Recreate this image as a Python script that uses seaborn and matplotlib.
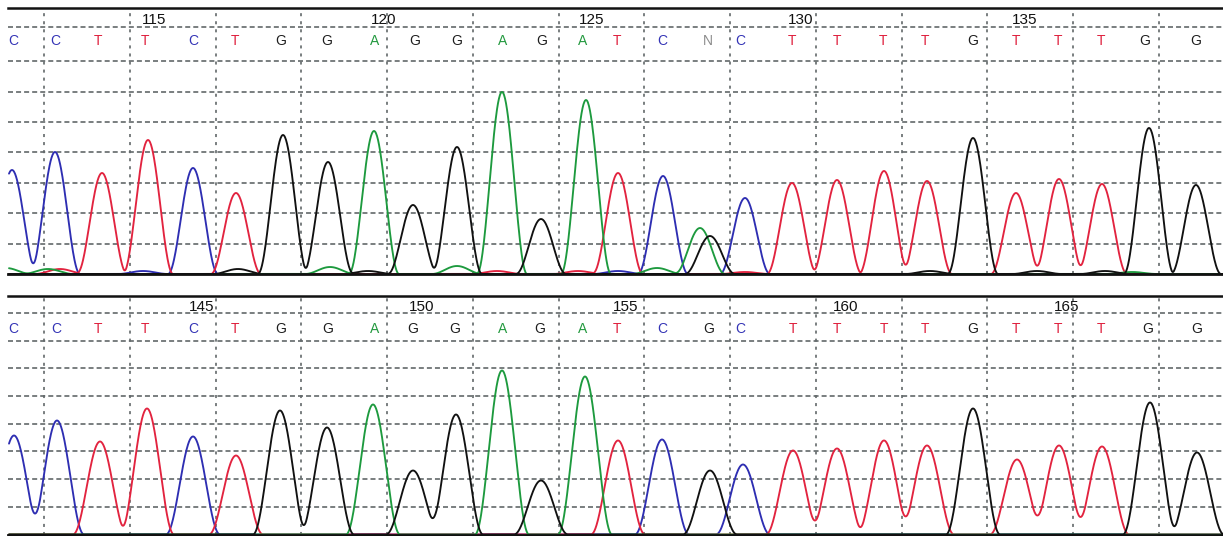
import numpy as np
import pandas as pd
import matplotlib
matplotlib.use("Agg")
import matplotlib.pyplot as plt
import seaborn as sns

# base calls and numbering
top_calls = list("CCTTCTGGAGGAGATCNCTTTTGTTTGG")
top_call_x = [13, 55, 98, 145, 193, 235, 281, 327, 375, 415, 457, 503, 542, 583,
              617, 662, 708, 740, 792, 837, 883, 925, 973, 1016, 1058, 1101, 1145, 1196]
top_first_pos = 112

bot_calls = list("CCTTCTGGAGGAGATCGCTTTTGTTTGG")
bot_call_x = [13, 56, 98, 145, 193, 235, 281, 328, 375, 413, 455, 503, 540, 583,
              617, 662, 709, 740, 793, 837, 884, 925, 973, 1016, 1058, 1101, 1148, 1197]
bot_first_pos = 141

# peaks of the top trace: scan position, height, dye
top_peak_x = [12, 55, 102, 148, 193, 236, 283, 328, 374, 413, 457, 502, 541, 586,
              618, 663, 700, 710, 745, 792, 837, 884, 927, 973, 1016, 1059, 1102, 1149, 1196]
top_peak_h = [104, 122, 101, 134, 106, 81, 139, 112, 143, 69, 127, 182, 55, 174,
              101, 98, 46, 38, 76, 91, 94, 103, 93, 136, 81, 95, 90, 146, 89]
top_peak_dye = list("CCTTCTGGAGGAGATCAGCTTTTGTTTGG")

# small background bumps on the top trace
top_noise_x = [6, 48, 330, 457, 657, 1132, 60, 497, 578, 745, 238, 368, 930, 1037, 1105, 143, 618]
top_noise_h = [6, 5, 7, 8, 6, 2, 5, 3, 3, 2, 5, 3, 3, 3, 3, 3, 3]
top_noise_dye = list("AAAAAATTTTGGGGGCC")

# peaks of the bottom trace
bot_peak_x = [14, 57, 100, 147, 193, 236, 280, 327, 373, 413, 456, 502, 541, 585,
              618, 662, 710, 743, 793, 837, 884, 927, 973, 1017, 1059, 1102, 1150, 1197]
bot_peak_h = [99, 114, 93, 126, 98, 79, 124, 107, 130, 64, 120, 164, 54, 158,
              94, 95, 64, 70, 84, 86, 94, 89, 126, 75, 89, 88, 132, 82]
bot_peak_dye = list("CCTTCTGGAGGAGATCGCTTTTGTTTGG")

DYE_COLORS = {"C": "#2e2eb2", "T": "#e2233f", "A": "#1d9a3e", "G": "#111111"}
CALL_COLORS = {"C": "#3434b6", "T": "#df1f3c", "A": "#23993f", "G": "#1e1e1e", "N": "#8c8c8c"}
GRID_COLOR = "#62686a"

sns.set_style("white")
plt.rcParams["font.family"] = ["Liberation Sans", "DejaVu Sans"]
plt.rcParams["lines.scale_dashes"] = False

FIG_W, FIG_H = 1223, 536


def trace_frame(peak_x, peak_h, peak_dye, half_width):
    scan = np.arange(9, 1223.5, 0.5)
    parts = []
    for dye in "CTAG":
        sig = np.zeros_like(scan)
        for px, ph, pd_ in zip(peak_x, peak_h, peak_dye):
            if pd_ != dye:
                continue
            d = np.abs(scan - px)
            sig += np.where(d < half_width, ph * np.cos(np.pi * d / (2 * half_width)) ** 2, 0.0)
        parts.append(pd.DataFrame({"scan": scan, "signal": sig, "dye": dye}))
    return pd.concat(parts, ignore_index=True)


def draw_panel(ax, df, calls, call_x, first_pos, top, grid_step, header_y, call_y, num_y):
    ax.set_xlim(8, 1223)
    ax.set_ylim(0, top)
    for k in range(1, 8):
        ax.axhline(k * grid_step, color=GRID_COLOR, lw=1.2, ls=(0, (3.6, 2.2)), zorder=1)
    ax.axhline(header_y, color=GRID_COLOR, lw=1.2, ls=(0, (3.6, 2.2)), zorder=1)
    for k in range(14):
        ax.axvline(44 + 85.75 * k, color=GRID_COLOR, lw=1.2, ls=(0, (2.2, 3.6)), zorder=1)

    sns.lineplot(data=df, x="scan", y="signal", hue="dye", hue_order=list("CTAG"),
                 palette=DYE_COLORS, estimator=None, sort=False, legend=False,
                 lw=1.35, ax=ax, zorder=3)

    for b, x in zip(calls, call_x):
        ax.text(x, call_y, b, color=CALL_COLORS[b], fontsize=10,
                ha="center", va="center", zorder=4)
    for i, x in enumerate(call_x):
        pos = first_pos + i
        if pos % 5 == 0:
            ax.text(x + 9, num_y, str(pos), color="#111111", fontsize=11,
                    ha="center", va="center", zorder=4)

    ax.set_xticks([])
    ax.set_yticks([])
    ax.set_xlabel("")
    ax.set_ylabel("")
    for side in ["left", "right"]:
        ax.spines[side].set_visible(False)
    ax.spines["top"].set_linewidth(1.8)
    ax.spines["top"].set_color("#111111")
    ax.spines["bottom"].set_linewidth(2.0)
    ax.spines["bottom"].set_color("#111111")
    ax.spines["bottom"].set_zorder(5)


fig = plt.figure(figsize=(FIG_W / 100, FIG_H / 100), dpi=100)

# top panel: baseline at 274 px, top rule at 8 px
ax1 = fig.add_axes([8 / FIG_W, (FIG_H - 274) / FIG_H, 1215 / FIG_W, 266 / FIG_H])
top_df = trace_frame(top_peak_x + top_noise_x, top_peak_h + top_noise_h,
                     top_peak_dye + top_noise_dye, 25)
draw_panel(ax1, top_df, top_calls, top_call_x, top_first_pos,
           top=266, grid_step=30.4, header_y=247, call_y=233, num_y=254)

# bottom panel: baseline at 534.5 px, top rule at 296 px
ax2 = fig.add_axes([8 / FIG_W, (FIG_H - 534.5) / FIG_H, 1215 / FIG_W, 238.5 / FIG_H])
bot_df = trace_frame(bot_peak_x, bot_peak_h, bot_peak_dye, 27)
draw_panel(ax2, bot_df, bot_calls, bot_call_x, bot_first_pos,
           top=238.5, grid_step=27.7, header_y=221.5, call_y=205.5, num_y=227.5)

fig.savefig("out.png", dpi=100, facecolor="white")
